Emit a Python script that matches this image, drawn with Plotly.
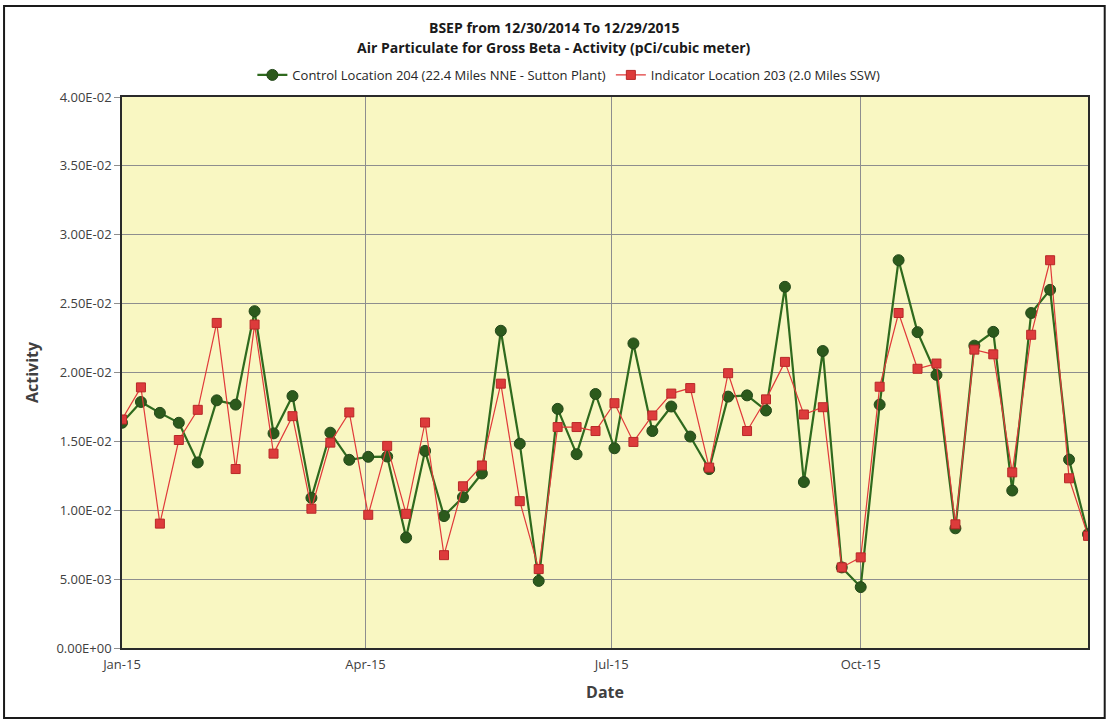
import pandas as pd
import plotly.graph_objs as go

dates = pd.date_range("2015-01-06", "2015-12-29", freq="7D")

control_204 = [
    0.01635, 0.01786, 0.01707, 0.01635, 0.01347, 0.01798, 0.01767, 0.02445, 0.01558, 0.01829,
    0.01090, 0.01563, 0.01366, 0.01388, 0.01390, 0.00802, 0.01431, 0.00958, 0.01095, 0.01267,
    0.02303, 0.01483, 0.00487, 0.01736, 0.01407, 0.01844, 0.01450, 0.02211, 0.01575, 0.01753,
    0.01535, 0.01299, 0.01825, 0.01834, 0.01724, 0.02622, 0.01205, 0.02156, 0.00585, 0.00442,
    0.01767, 0.02815, 0.02293, 0.01983, 0.00869, 0.02195, 0.02295, 0.01143, 0.02432, 0.02600,
    0.01368, 0.00826,
]
indicator_203 = [
    0.01659, 0.01892, 0.00903, 0.01510, 0.01729, 0.02360, 0.01299, 0.02348, 0.01411, 0.01683,
    0.01011, 0.01491, 0.01710, 0.00967, 0.01467, 0.00974, 0.01637, 0.00674, 0.01174, 0.01325,
    0.01919, 0.01066, 0.00573, 0.01604, 0.01604, 0.01575, 0.01777, 0.01496, 0.01688, 0.01847,
    0.01887, 0.01310, 0.01995, 0.01575, 0.01805, 0.02077, 0.01695, 0.01748, 0.00585, 0.00658,
    0.01897, 0.02432, 0.02027, 0.02065, 0.00898, 0.02166, 0.02132, 0.01275, 0.02274, 0.02815,
    0.01232, 0.00814,
]

y_tick_vals = [0, 0.005, 0.01, 0.015, 0.02, 0.025, 0.03, 0.035, 0.04]
y_tick_labels = ["0.00E+00", "5.00E-03", "1.00E-02", "1.50E-02", "2.00E-02",
                 "2.50E-02", "3.00E-02", "3.50E-02", "4.00E-02"]

title_lines = ["BSEP from 12/30/2014 To 12/29/2015",
               "Air Particulate for Gross Beta - Activity (pCi/cubic meter)"]

FONT = "Open Sans, sans-serif"

fig = go.Figure()

fig.add_trace(
    go.Scatter(
        x=dates,
        y=control_204,
        mode="lines+markers",
        name="Control Location 204 (22.4 Miles NNE - Sutton Plant)",
        line=dict(color="#2F6A1E", width=2.2),
        marker=dict(symbol="circle", size=11, color="#2C5A1C",
                    line=dict(color="#24481A", width=1)),
    )
)
fig.add_trace(
    go.Scatter(
        x=dates,
        y=indicator_203,
        mode="lines+markers",
        name="Indicator Location 203 (2.0 Miles SSW)",
        line=dict(color="#E03A3A", width=1.2),
        marker=dict(symbol="square", size=9, color="#DD3B3B",
                    line=dict(color="#B72828", width=1)),
    )
)

fig.update_xaxes(
    type="date",
    range=[dates[0], dates[-1]],
    tick0=dates[0],
    dtick="M3",
    tickformat="%b-%y",
    showgrid=True,
    gridcolor="#8E8E8E",
    gridwidth=1,
    showline=True,
    linecolor="#2A2A2A",
    linewidth=1.5,
    mirror=True,
    ticks="",
    ticklabelstandoff=4,
    tickfont=dict(family=FONT, size=13, color="#404040"),
    title=dict(text="<b>Date</b>", font=dict(family=FONT, size=16, color="#404040"), standoff=14),
)
fig.update_yaxes(
    range=[0, 0.04],
    tickvals=y_tick_vals,
    ticktext=y_tick_labels,
    showgrid=True,
    gridcolor="#8E8E8E",
    gridwidth=1,
    showline=True,
    linecolor="#2A2A2A",
    linewidth=1.5,
    mirror=True,
    ticks="outside",
    ticklen=6,
    tickcolor="#8E8E8E",
    zeroline=False,
    tickfont=dict(family=FONT, size=13, color="#404040"),
    title=dict(text="<b>Activity</b>", font=dict(family=FONT, size=16, color="#404040"), standoff=14),
)

# two title lines placed separately to match the original line spacing
for text, ypos in zip(title_lines, [1.127, 1.0907]):
    fig.add_annotation(
        text=f"<b>{text}</b>",
        xref="paper", yref="paper",
        x=0.4476, y=ypos,
        xanchor="center", yanchor="middle",
        showarrow=False,
        font=dict(family=FONT, size=14, color="#1A1A1A"),
    )

fig.update_layout(
    width=1109,
    height=721,
    margin=dict(l=122, r=21, t=97, b=73),
    paper_bgcolor="white",
    plot_bgcolor="#F9F7C2",
    legend=dict(
        orientation="h",
        x=0.4626,
        xanchor="center",
        y=1.04,
        yanchor="middle",
        font=dict(family=FONT, size=13, color="#262626"),
        bgcolor="rgba(0,0,0,0)",
        itemwidth=30,
    ),
    showlegend=True,
    shapes=[
        dict(type="rect", xref="paper", yref="paper",
             x0=-0.1221, x1=1.0173, y0=-0.127, y1=1.165,
             line=dict(color="#1A1A1A", width=2), fillcolor="rgba(0,0,0,0)"),
    ],
)

# drop the default 8px page margin so the figure sits at the window origin
fig.write_html(
    "out.html",
    config={"displayModeBar": False},
    post_script="document.body.style.margin='0';",
)
